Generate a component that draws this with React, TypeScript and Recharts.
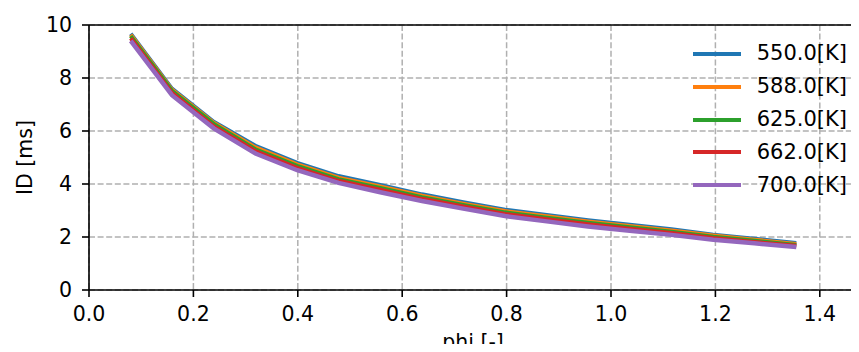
import React from "react";
import { LineChart, Line, XAxis, YAxis, CartesianGrid, ReferenceLine, Label } from "recharts";

const phi = [0.08, 0.159, 0.239, 0.319, 0.399, 0.478, 0.558, 0.638, 0.717, 0.797, 0.877, 0.956, 1.036, 1.116, 1.196, 1.275, 1.355];

const id550 = [9.67, 7.6, 6.35, 5.44, 4.8, 4.3, 3.96, 3.61, 3.31, 3.03, 2.83, 2.63, 2.46, 2.29, 2.09, 1.93, 1.77];
const id588 = [9.63, 7.56, 6.31, 5.38, 4.74, 4.24, 3.91, 3.56, 3.26, 2.98, 2.78, 2.59, 2.42, 2.25, 2.06, 1.9, 1.74];
const id625 = [9.58, 7.52, 6.27, 5.31, 4.68, 4.18, 3.85, 3.5, 3.21, 2.93, 2.73, 2.54, 2.37, 2.2, 2.01, 1.86, 1.7];
const id662 = [9.5, 7.44, 6.18, 5.24, 4.61, 4.12, 3.78, 3.44, 3.15, 2.87, 2.67, 2.48, 2.31, 2.15, 1.96, 1.81, 1.67];
const id700 = [9.4, 7.35, 6.1, 5.15, 4.52, 4.04, 3.69, 3.36, 3.07, 2.79, 2.59, 2.4, 2.24, 2.08, 1.9, 1.76, 1.62];

const xTicks = [0, 0.2, 0.4, 0.6, 0.8, 1.0, 1.2, 1.4];
const yTicks = [0, 2, 4, 6, 8, 10];

const series = [
  { key: "t550", name: "550.0[K]", color: "#1f77b4", values: id550 },
  { key: "t588", name: "588.0[K]", color: "#ff7f0e", values: id588 },
  { key: "t625", name: "625.0[K]", color: "#2ca02c", values: id625 },
  { key: "t662", name: "662.0[K]", color: "#d62728", values: id662 },
  { key: "t700", name: "700.0[K]", color: "#9467bd", values: id700 },
];

const data = phi.map((p, i) => {
  const row: Record<string, number> = { phi: p };
  series.forEach((s) => (row[s.key] = s.values[i]));
  return row;
});

const font = "'DejaVu Sans', sans-serif";
const tickStyle = { fontSize: 20.5, fill: "#000", fontFamily: font };

function YTitle(props: any) {
  const vb = props.viewBox;
  const cx = 25;
  const cy = vb.y + vb.height / 2;
  return (
    <text x={cx} y={cy} transform={`rotate(-90 ${cx} ${cy})`} textAnchor="middle" dominantBaseline="central" style={tickStyle}>
      ID [ms]
    </text>
  );
}

function XTitle() {
  return (
    <text x={473} y={349} textAnchor="middle" style={tickStyle}>
      phi [-]
    </text>
  );
}

export default function App() {
  return (
    <div style={{ margin: -8, width: 859, height: 352, overflow: "hidden", background: "#fff", position: "relative" }}>
      <LineChart width={872} height={352} data={data} margin={{ top: 25, right: 0, bottom: 0, left: 0 }}>
        <CartesianGrid stroke="#b0b0b0" strokeWidth={1.5} strokeDasharray="6 2.6" />
        <XAxis
          dataKey="phi"
          type="number"
          domain={[0, 1.5]}
          ticks={xTicks}
          tickFormatter={(v: number) => v.toFixed(1)}
          height={62}
          tickSize={7}
          tickMargin={9}
          tick={tickStyle}
          stroke="#000"
          strokeWidth={1.6}
          allowDataOverflow
        >
          <Label content={XTitle} />
        </XAxis>
        <YAxis
          type="number"
          domain={[0, 10]}
          ticks={yTicks}
          width={89}
          tickSize={7}
          tickMargin={10}
          tick={tickStyle}
          stroke="#000"
          strokeWidth={1.6}
        >
          <Label content={YTitle} />
        </YAxis>
        <ReferenceLine y={10} stroke="#000" strokeWidth={1.6} />
        {series.map((s, i) => (
          <Line
            key={s.key}
            dataKey={s.key}
            name={s.name}
            stroke={s.color}
            strokeWidth={i === 4 ? 4.5 : 4}
            dot={false}
            type="linear"
            isAnimationActive={false}
          />
        ))}
      </LineChart>
      {/* legend, no frame */}
      <div style={{ position: "absolute", top: 37.6, left: 692.7, fontFamily: font, fontSize: 21, color: "#000" }}>
        {series.map((s) => (
          <div key={s.key} style={{ display: "flex", alignItems: "center", height: 32.8 }}>
            <span style={{ width: 48, height: 4, background: s.color, display: "inline-block" }} />
            <span style={{ marginLeft: 16, lineHeight: 1 }}>{s.name}</span>
          </div>
        ))}
      </div>
    </div>
  );
}
